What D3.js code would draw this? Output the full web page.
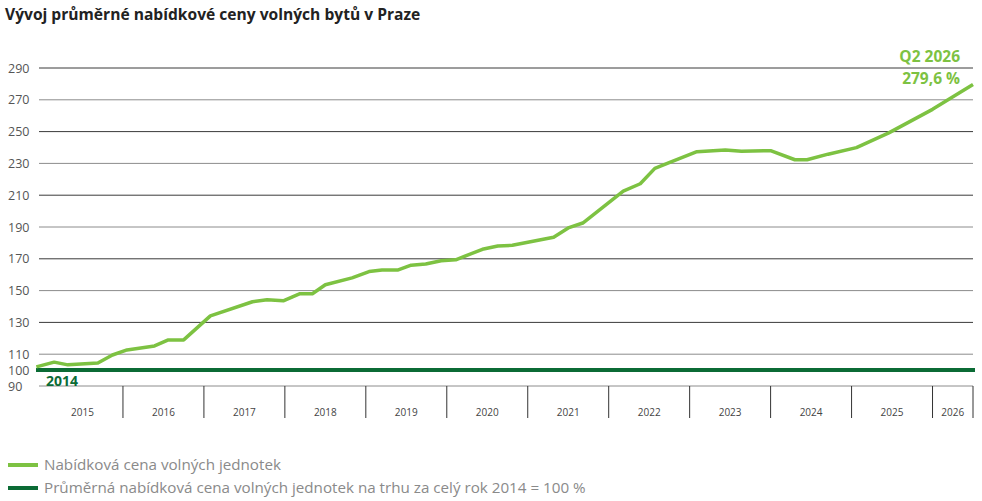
<!DOCTYPE html>
<html><head><meta charset="utf-8">
<script src="https://cdn.jsdelivr.net/npm/d3@7"></script>
<style>body{margin:0;background:#fff;font-family:"Open Sans",sans-serif}</style>
</head><body><div id="chart"></div>
<script>
const title = "Vývoj průměrné nabídkové ceny volných bytů v Praze";
const years = [2015,2016,2017,2018,2019,2020,2021,2022,2023,2024,2025,2026];
const yTicks = [290,270,250,230,210,190,170,150,130,110,100,90];
// time position (decimal year) and index value of the offer price
const periods = [2014.93,2015.15,2015.32,2015.69,2015.87,2016.05,2016.39,2016.56,2016.75,2017.08,2017.6,2017.78,2017.98,2018.18,2018.34,2018.5,2018.83,2019.04,2019.2,2019.4,2019.56,2019.74,2019.93,2020.11,2020.44,2020.63,2020.81,2021.32,2021.5,2021.68,2022.18,2022.39,2022.57,2022.77,2023.09,2023.44,2023.64,2024.0,2024.3,2024.45,2024.71,2025.06,2025.46,2026.0,2026.5];
const values = [102,105,103.3,104.5,109.5,112.7,115.2,119,119,134.1,143,144.2,143.6,148,148,153.7,158,162,163,163,166,166.7,168.8,169.4,176,178,178.5,183.6,189.4,192.5,212.5,217.2,226.9,231,237.4,238.5,237.6,238,232.3,232.3,235.8,239.9,249.2,264,279.6];
const baseValue = 100;
const legendLabels = ["Nabídková cena volných jednotek","Průměrná nabídková cena volných jednotek na trhu za celý rok 2014 = 100 %"];
const light = "#7dc242", dark = "#0b6b35";

const svg = d3.select("#chart").append("svg").attr("width",982).attr("height",501);
svg.append("text").attr("x",5).attr("y",20).attr("font-size",15.6).attr("font-weight",700).attr("fill","#222").text(title);

const x = d3.scaleLinear().domain([2015,2026.5]).range([42,973]);
const y = d3.scaleLinear().domain([90,290]).range([386,68]);

svg.selectAll(".grid").data(yTicks).join("line")
  .attr("x1",39).attr("x2",973).attr("y1",d=>y(d)).attr("y2",d=>y(d))
  .attr("stroke",(d,i)=>i%2? "#8c8c8c":"#3a3a3a").attr("stroke-width",1);
svg.selectAll(".yl").data(yTicks).join("text")
  .attr("x",8).attr("y",d=>y(d)+4.5).attr("font-size",12.5).attr("fill","#555").text(d=>d);

// year separators
svg.selectAll(".sep").data(years.slice(1).concat([2026.5])).join("line")
  .attr("x1",d=>x(d)).attr("x2",d=>x(d)).attr("y1",386).attr("y2",418)
  .attr("stroke","#333").attr("stroke-width",1);
svg.selectAll(".xl").data(years).join("text")
  .attr("x",d=>(x(d)+x(Math.min(d+1,2026.5)))/2).attr("y",416).attr("text-anchor","middle")
  .attr("font-size",10).attr("fill","#444").text(d=>d);

svg.append("line").attr("x1",36).attr("x2",975).attr("y1",y(baseValue)).attr("y2",y(baseValue))
  .attr("stroke",dark).attr("stroke-width",4);
svg.append("text").attr("x",46).attr("y",386).attr("font-size",14).attr("font-weight",700).attr("fill",dark).text("2014");

const pts = periods.map((p,i)=>[p,values[i]]);
svg.append("path").datum(pts).attr("fill","none").attr("stroke",light).attr("stroke-width",3.5)
  .attr("stroke-linejoin","round")
  .attr("d",d3.line().x(d=>x(d[0])).y(d=>y(d[1])));

svg.append("text").attr("x",960).attr("y",62).attr("text-anchor","end").attr("font-size",15.5).attr("font-weight",700).attr("fill",light).text("Q2 2026");
svg.append("text").attr("x",960).attr("y",84).attr("text-anchor","end").attr("font-size",15.5).attr("font-weight",700).attr("fill",light).text("279,6 %");

const lg = svg.selectAll(".lg").data(legendLabels).join("g").attr("transform",(d,i)=>`translate(8,${465+i*23})`);
lg.append("line").attr("x1",0).attr("x2",30).attr("stroke",(d,i)=>i? dark:light).attr("stroke-width",4);
lg.append("text").attr("x",36).attr("y",5).attr("font-size",15.2).attr("fill","#8a8a8a").text(d=>d);
</script></body></html>
